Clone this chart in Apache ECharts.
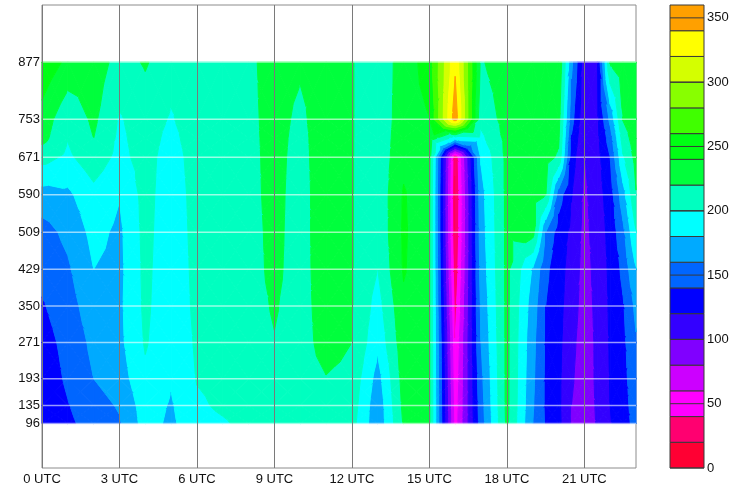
<!DOCTYPE html>
<html>
<head>
<meta charset="utf-8">
<script src="https://cdn.jsdelivr.net/npm/echarts@6/dist/echarts.min.js"></script>
<style>
  html, body { margin: 0; padding: 0; background: #fff; }
  #chart { width: 740px; height: 489px; }
</style>
</head>
<body>
<div id="chart"></div>
<script>
// time of each data column (UTC hours) and height of each data row (m)
const hours = [0, 1, 2, 3, 4, 5, 6, 7, 8, 9, 10, 11, 12, 13, 14, 15, 16, 17, 18, 19, 19.5, 20, 20.5, 21, 21.5, 22, 22.5, 23]
const levels = [877, 753, 712, 671, 590, 509, 429, 350, 271, 193, 135, 96]

// values per height level, one entry per time column
const lev877 = [256, 235, 232, 212, 222, 208, 214, 213, 214, 232, 224, 236, 221, 208, 228, 250, 336, 218, 232, 233, 232, 238, 165, 108, 118, 222, 232, 236]
const lev753 = [232, 205, 224, 198, 210, 198, 212, 212, 213, 230, 214, 236, 221, 207, 230, 240, 352, 206, 228, 232, 232, 228, 148, 104, 116, 165, 221, 234]
const lev712 = [227, 201, 220, 196, 209, 194, 211, 212, 213, 229, 212, 236, 221, 207, 232, 232, 190, 195, 226, 231, 231, 224, 138, 101, 115, 150, 210, 231]
const lev671 = [207, 196, 212, 194, 208, 190, 210, 211, 213, 228, 211, 236, 221, 206, 235, 226, 22, 182, 225, 229, 228, 217, 130, 99, 113, 140, 198, 227]
const lev590 = [172, 176, 194, 181, 207, 188, 208, 210, 213, 227, 210, 235, 221, 205, 242, 224, 18, 173, 225, 228, 221, 150, 121, 96, 111, 130, 172, 219]
const lev509 = [152, 165, 186, 176, 206, 187, 207, 210, 212, 226, 210, 235, 221, 204, 243, 223, 20, 171, 225, 228, 160, 130, 116, 94, 109, 126, 155, 200]
const lev429 = [146, 157, 180, 175, 205, 186, 206, 209, 212, 225, 210, 234, 221, 200, 242, 223, 25, 168, 225, 178, 145, 127, 113, 92, 107, 124, 145, 180]
const lev350 = [138, 151, 172, 176, 204, 185, 205, 208, 212, 222, 210, 232, 221, 192, 236, 223, 33, 164, 225, 170, 140, 126, 110, 91, 105, 123, 138, 165]
const lev271 = [132, 146, 165, 175, 202, 184, 203, 207, 211, 219, 210, 229, 220, 185, 232, 223, 41, 160, 225, 166, 138, 125, 106, 89, 104, 122, 135, 158]
const lev193 = [128, 143, 160, 170, 196, 182, 201, 205, 209, 214, 210, 219, 214, 172, 228, 223, 45, 155, 225, 164, 137, 124, 103, 88, 104, 121, 133, 154]
const lev135 = [126, 139, 152, 162, 190, 178, 197, 203, 207, 211, 210, 214, 210, 166, 225, 223, 48, 152, 225, 162, 137, 124, 100, 87, 103, 120, 131, 151]
const lev96 = [124, 136, 148, 158, 188, 176, 194, 198, 205, 209, 210, 212, 207, 165, 222, 223, 50, 150, 224, 160, 138, 125, 98, 86, 102, 119, 130, 148]
const rows = [lev877, lev753, lev712, lev671, lev590, lev509, lev429, lev350, lev271, lev193, lev135, lev96]

// axis ticks
const levelTicks = [96, 135, 193, 271, 350, 429, 509, 590, 671, 753, 877]
const hourTicks = [0, 3, 6, 9, 12, 15, 18, 21]

// colour scale
const bandLimits = [0, 20, 40, 60, 80, 100, 120, 140, 160, 180, 200, 220, 240, 260, 280, 300, 320, 340, 360]
const bandColors = ['#ff0033', '#ff0070', '#ff00ff', '#cc00ff', '#8000ff', '#3300ff', '#0000ff', '#0066ff',
  '#00aaff', '#00ffff', '#00ffc0', '#00ff3c', '#00ff14', '#40ff00', '#88ff00', '#d4ff00', '#ffff00', '#ffa000']
const colorbarTicks = [0, 50, 100, 150, 200, 250, 300, 350]

// keep the part of a polygon on one side of a value threshold
function clip (poly, t, above) {
  const out = []
  for (let k = 0; k < poly.length; k++) {
    const a = poly[k]
    const b = poly[(k + 1) % poly.length]
    const ina = above ? a[2] >= t : a[2] < t
    const inb = above ? b[2] >= t : b[2] < t
    if (ina) out.push(a)
    if (ina !== inb) {
      const f = (t - a[2]) / (b[2] - a[2])
      out.push([a[0] + f * (b[0] - a[0]), a[1] + f * (b[1] - a[1]), t])
    }
  }
  return out
}

const cells = []
for (let r = 0; r < levels.length - 1; r++) {
  for (let c = 0; c < hours.length - 1; c++) {
    cells.push([hours[c], levels[r], c, r])
  }
}

function renderCell (params, api) {
  const c = api.value(2)
  const r = api.value(3)
  const corner = (cc, rr) => {
    const p = api.coord([hours[cc], levels[rr]])
    return [p[0], p[1], rows[rr][cc]]
  }
  const a = corner(c, r)
  const b = corner(c + 1, r)
  const d = corner(c + 1, r + 1)
  const e = corner(c, r + 1)
  const mid = [0, 1, 2].map(k => (a[k] + b[k] + d[k] + e[k]) / 4)
  const tris = [[a, b, mid], [b, d, mid], [d, e, mid], [e, a, mid]]
  const children = []
  tris.forEach(tri => {
    for (let k = 0; k < bandColors.length; k++) {
      let poly = clip(tri, bandLimits[k], true)
      if (poly.length < 3) continue
      poly = clip(poly, bandLimits[k + 1], false)
      if (poly.length < 3) continue
      children.push({
        type: 'polygon',
        shape: { points: poly.map(p => [p[0], p[1]]) },
        style: { fill: bandColors[k], stroke: bandColors[k], lineWidth: 1 }
      })
    }
  })
  return { type: 'group', children }
}

const labelFont = { fontFamily: 'Liberation Sans, Arial, sans-serif', fontSize: 13, color: '#111' }

const chart = echarts.init(document.getElementById('chart'), null, { renderer: 'canvas' })
chart.setOption({
  animation: false,
  grid: [
    { left: 42, top: 5, width: 594, height: 463, show: true, borderColor: '#8c8c8c', borderWidth: 1 },
    { left: 670, top: 5, width: 34, height: 463 }
  ],
  xAxis: [
    {
      type: 'value', gridIndex: 0, min: 0, max: 23, interval: 3,
      axisLine: { show: false },
      axisTick: { show: false },
      splitLine: { show: false },
      axisLabel: Object.assign({ formatter: '{value} UTC', margin: 5, showMaxLabel: false }, labelFont)
    },
    { type: 'value', gridIndex: 1, min: 0, max: 1, show: false }
  ],
  yAxis: [
    {
      type: 'value', gridIndex: 0, min: 0, max: 1000,
      axisLine: { show: false },
      axisTick: { show: false },
      splitLine: { show: false },
      axisLabel: Object.assign({ customValues: levelTicks, margin: 2 }, labelFont)
    },
    {
      type: 'value', gridIndex: 1, min: 0, max: 360, interval: 50, position: 'right',
      axisLine: { show: false },
      axisTick: { show: false },
      splitLine: { show: false },
      axisLabel: Object.assign({ margin: 3, showMaxLabel: false }, labelFont)
    }
  ],
  series: [
    {
      type: 'custom', xAxisIndex: 0, yAxisIndex: 0, silent: true,
      data: cells,
      renderItem: renderCell
    },
    {
      // white level lines across the data
      type: 'custom', xAxisIndex: 0, yAxisIndex: 0, silent: true, z: 5,
      data: levelTicks.map(v => [0, v]),
      renderItem (params, api) {
        const p0 = api.coord([hours[0], api.value(1)])
        const p1 = api.coord([hours[hours.length - 1], api.value(1)])
        return {
          type: 'line',
          shape: { x1: p0[0], y1: p0[1], x2: p1[0], y2: p1[1] },
          style: { stroke: 'rgba(255,255,255,0.6)', lineWidth: 1.5 }
        }
      }
    },
    {
      // vertical time grid lines
      type: 'custom', xAxisIndex: 0, yAxisIndex: 0, silent: true, z: 6,
      data: hourTicks.map(h => [h, 0]),
      renderItem (params, api) {
        const p0 = api.coord([api.value(0), 0])
        const p1 = api.coord([api.value(0), 1000])
        return {
          type: 'line',
          shape: { x1: Math.round(p0[0]) + 0.5, y1: p0[1], x2: Math.round(p1[0]) + 0.5, y2: p1[1] },
          style: { stroke: '#7a7a7a', lineWidth: 1 }
        }
      }
    },
    {
      // colour bar
      type: 'custom', xAxisIndex: 1, yAxisIndex: 1, silent: true,
      data: bandColors.map((col, k) => [0, bandLimits[k], k]),
      renderItem (params, api) {
        const k = api.value(2)
        const p0 = api.coord([0, bandLimits[k + 1]])
        const p1 = api.coord([1, bandLimits[k]])
        return {
          type: 'rect',
          shape: { x: p0[0], y: p0[1], width: p1[0] - p0[0], height: p1[1] - p0[1] },
          style: { fill: bandColors[k], stroke: '#3a3a3a', lineWidth: 1 }
        }
      }
    },
    {
      type: 'custom', xAxisIndex: 1, yAxisIndex: 1, silent: true, z: 5,
      data: colorbarTicks.map(v => [0, v]),
      renderItem (params, api) {
        const p0 = api.coord([0, api.value(1)])
        const p1 = api.coord([1, api.value(1)])
        return {
          type: 'line',
          shape: { x1: p0[0], y1: p0[1], x2: p1[0], y2: p1[1] },
          style: { stroke: '#3a3a3a', lineWidth: 1 }
        }
      }
    }
  ]
})
</script>
</body>
</html>
